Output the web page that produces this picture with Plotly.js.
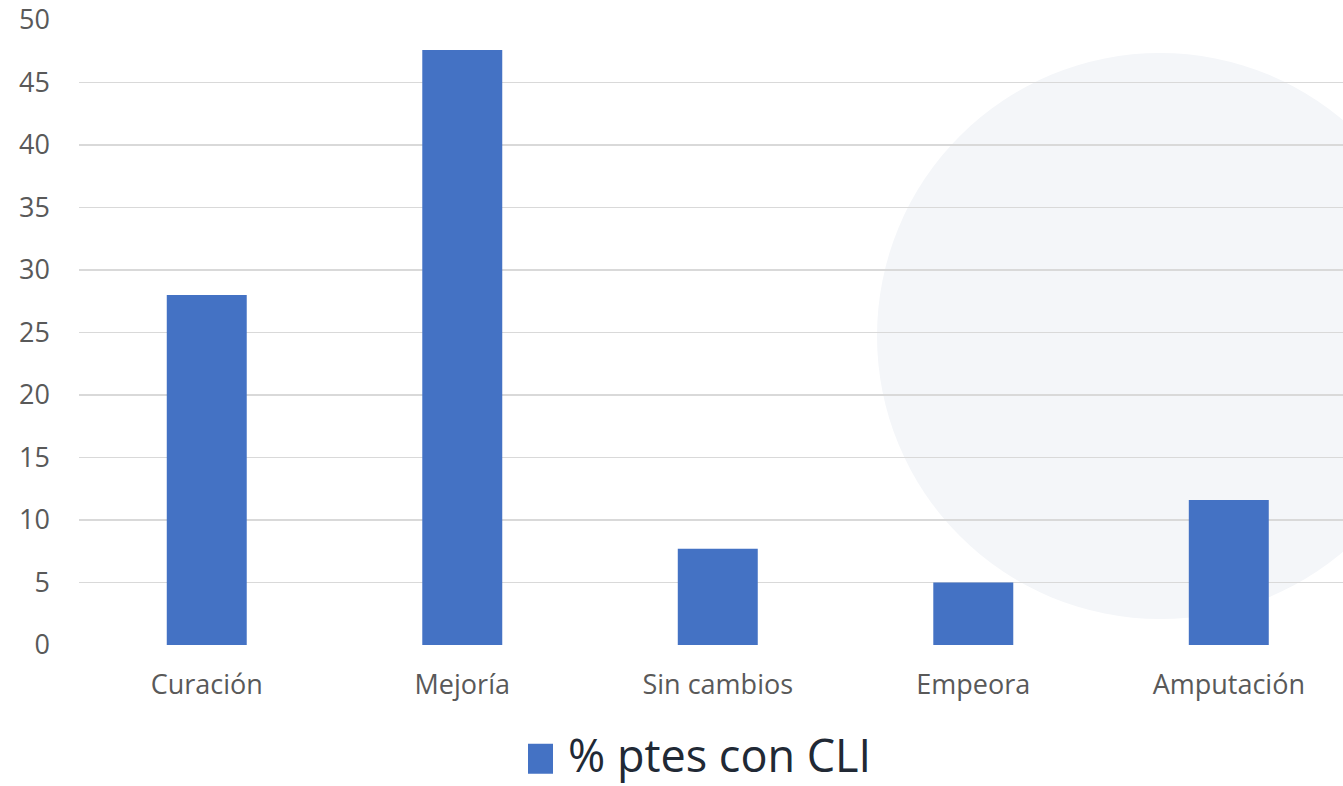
<!DOCTYPE html>
<html>
<head>
<meta charset="utf-8">
<script src="https://cdn.plot.ly/plotly-3.0.1.min.js"></script>
<style>html,body{margin:0;padding:0;background:#fff;}#chart{width:1343px;height:786px;}</style>
</head>
<body>
<div id="chart"></div>
<script>
const categories = ["Curación", "Mejoría", "Sin cambios", "Empeora", "Amputación"];
const values = [28, 47.6, 7.7, 5, 11.6];
const seriesName = "% ptes con CLI";
const yTicks = [0, 5, 10, 15, 20, 25, 30, 35, 40, 45, 50];

const W = 1343, H = 786;
const L = 79, R = 1343, T = 19, B = 645;
function px(x){ return (x - L) / (R - L); }
function py(y){ return (B - y) / (B - T); }

const trace = {
  type: 'bar',
  x: categories,
  y: values,
  name: seriesName,
  marker: {color: '#4472c4'},
  width: 0.313,
  showlegend: true
};

const layout = {
  width: W, height: H,
  margin: {l: L, r: W - R, t: T, b: H - B, autoexpand: false},
  paper_bgcolor: '#ffffff',
  plot_bgcolor: 'rgba(0,0,0,0)',
  font: {family: 'Open Sans, Liberation Sans, sans-serif', color: '#595959'},
  xaxis: {
    type: 'category',
    range: [-0.5, 4.447],
    showgrid: false,
    zeroline: false,
    showline: false,
    ticks: '',
    tickfont: {size: 27, color: '#595959'},
    ticklabelstandoff: 21,
    automargin: false
  },
  yaxis: {
    range: [0, 50.08],
    tickvals: yTicks,
    showgrid: true,
    gridcolor: '#d9d9d9',
    gridwidth: 1.5,
    zeroline: false,
    showline: false,
    ticks: '',
    tickfont: {size: 27, color: '#595959'},
    ticklabelstandoff: 28,
    automargin: false
  },
  showlegend: true,
  legend: {
    orientation: 'h',
    x: px(528), xanchor: 'left',
    y: py(755), yanchor: 'middle',
    font: {size: 45, color: '#212935'},
    bgcolor: 'rgba(0,0,0,0)'
  },
  shapes: [
    {type: 'circle', xref: 'paper', yref: 'paper', layer: 'below',
     x0: px(877), x1: px(1443), y0: py(53), y1: py(619),
     fillcolor: '#f4f6f9', line: {width: 0}}
  ]
};

Plotly.newPlot('chart', [trace], layout, {displayModeBar: false, staticPlot: true}).then(function(gd){
  // enlarge the legend swatch to match the reference's large square
  gd.querySelectorAll('.legend .legendpoints path').forEach(function(p){
    p.setAttribute('d', 'M5,19H-25V-11H5Z');
  });
});
</script>
</body>
</html>
